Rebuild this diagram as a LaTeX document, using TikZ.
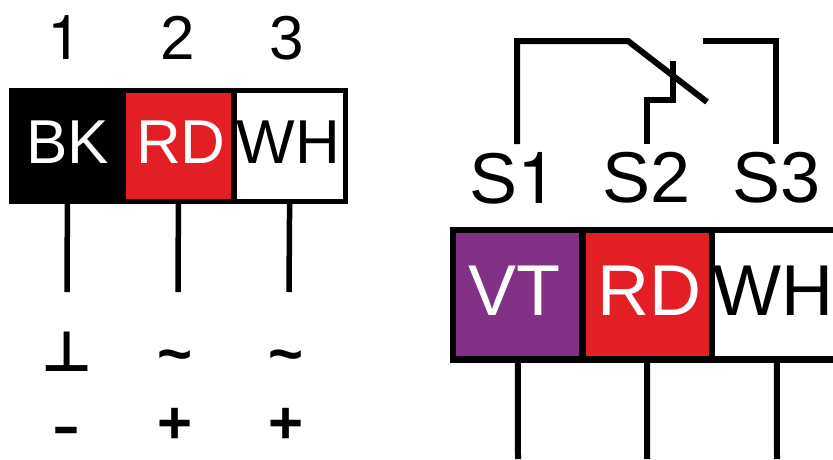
\documentclass[tikz,border=0pt]{standalone}
\usepackage{fontspec}
\setmainfont{Liberation Sans}
\newfontfamily\symfont{DejaVu Sans Bold}
\newfontfamily\onefont{TeX Gyre Heros}
\definecolor{wirered}{HTML}{E31E24}
\definecolor{wireviolet}{HTML}{833187}
\tikzset{
    left cell/.style={draw=black,line width=5.5pt,inner sep=0pt,minimum height=110.7pt,
        text depth=7pt,font=\fontsize{62}{62}\selectfont},
    right cell/.style={draw=black,line width=6.4pt,inner sep=0pt,minimum height=129.3pt,
        text depth=8pt,font=\fontsize{72}{72}\selectfont},
    wire/.style={line width=5.5pt},
    main label/.style={inner sep=0pt,font=\fontsize{62}{62}\selectfont},
    big label/.style={inner sep=0pt,font=\fontsize{72}{72}\selectfont},
    sign/.style={inner sep=0pt,font=\fontsize{60}{60}\selectfont\bfseries}
}
\begin{document}
\begin{tikzpicture}[x=1pt,y=-1pt,thick]
        \useasboundingbox (0,0) rectangle (833,459);

        % Define left cells
        \node[left cell,fill=black,text=white,minimum width=111.3pt] (bk) at (67.4,145.9) {BK};
        \node[left cell,fill=wirered,text=white,minimum width=110.8pt] (rd) at (178.4,145.9) {\hspace*{5pt}RD};
        \node[left cell,fill=white,minimum width=111.7pt] (wh) at (289.6,145.9) {WH\hspace*{2pt}};

        % Define right cells
        \node[right cell,fill=wireviolet,text=white,minimum width=129.3pt] (vt) at (517.9,294.7) {VT\hspace*{6pt}};
        \node[right cell,fill=wirered,text=white,minimum width=129.5pt] (rd2) at (647.2,294.7) {\hspace*{4pt}RD};
        \node[right cell,fill=white,minimum width=129.5pt] (wh2) at (776.8,294.7) {WH\hspace*{6pt}};

        % Define labels
        \node[main label] (n1) at (65,38) {\onefont 1};
        \node[main label] (n2) at (178,38) {2};
        \node[main label] (n3) at (287,38) {3};
        \node[big label] (s1) at (513.5,178) {S{\onefont 1}};
        \node[big label] (s2) at (647,178) {S2};
        \node[big label] (s3) at (777,178) {S3};

        % Define signs
        \node[sign,font=\fontsize{56}{56}\selectfont\symfont] (gnd) at (67,352) {⊥};
        \node[sign] (t2) at (175,362) {\char"007E};
        \node[sign] (t3) at (286,362) {\char"007E};
        \node[sign] (m1) at (66,436) {\scalebox{1.4}[0.9]{-}};
        \node[sign] (p2) at (175,426) {+};
        \node[sign] (p3) at (286,426) {+};

        % Free ends
        \coordinate (e1) at (67,292);
        \coordinate (e2) at (178,292);
        \coordinate (e3) at (289,292);
        \coordinate (f1) at (518,459);
        \coordinate (f2) at (647,459);
        \coordinate (f3) at (777,459);
        \coordinate (c1) at (517,144);
        \coordinate (c2) at (647,144);
        \coordinate (c3) at (776,144);

        % Draw wires
        \draw[wire] (bk.south) -- (e1);
        \draw[wire] (rd.south) -- (e2);
        \draw[wire] (wh.south) -- (e3);
        \draw[wire,line width=6pt] (vt.south) -- (f1);
        \draw[wire,line width=6pt] (rd2.south) -- (f2);
        \draw[wire,line width=6pt] (wh2.south) -- (f3);

        % Draw switch
        \draw[wire,line width=6pt] (c1) |- (628,41) -- (707,102);
        \draw[wire,line width=6pt] (c2) |- (672.7,100) -- (672.7,61);
        \draw[wire,line width=6pt] (c3) |- (703,41);

        \end{tikzpicture}
\end{document}
